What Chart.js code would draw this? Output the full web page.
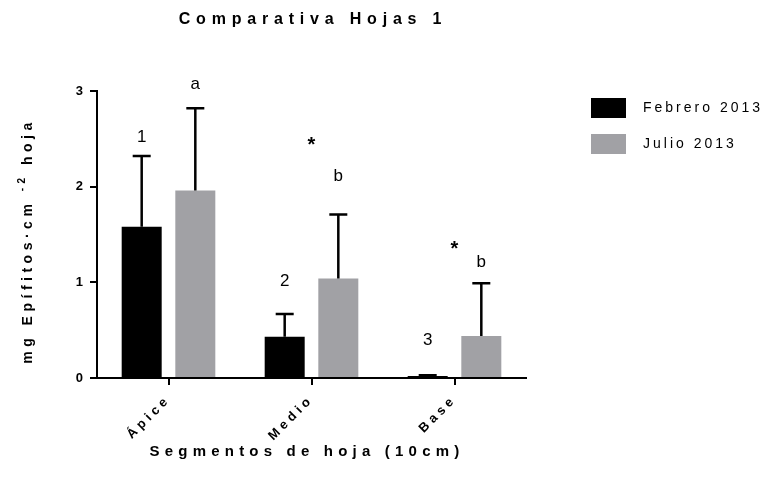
<!DOCTYPE html>
<html>
<head>
<meta charset="utf-8">
<script src="https://cdn.jsdelivr.net/npm/chart.js@4.4.0/dist/chart.umd.min.js"></script>
<style>
    html, body { margin: 0; padding: 0; background: #fff; }
    #wrap { width: 781px; height: 488px; }
</style>
</head>
<body>
<div id="wrap"><canvas id="chart"></canvas></div>
<script>
const segments = ['Ápice', 'Medio', 'Base'];
const seriesNames = ['Febrero 2013', 'Julio 2013'];
const febrero = [1.58, 0.43, 0.02];
const julio = [1.96, 1.04, 0.44];
const febreroSD = [0.74, 0.24, 0.01];
const julioSD = [0.86, 0.67, 0.55];

// letters and stars above the bars: text, segment, series (-1 = middle of the group), height in mg
const markText = ['1', 'a', '2', '*', 'b', '3', '*', 'b'];
const markSegment = [0, 0, 1, 1, 1, 2, 2, 2];
const markSeries = [0, 1, 0, -1, 1, 0, -1, 1];
const markY = [2.52, 3.07, 1.01, 2.47, 2.11, 0.39, 1.39, 1.21];

const FONT = "'Liberation Sans', Arial, sans-serif";
const colors = ['#000000', '#a1a1a5'];

const spacing = {
    id: 'letter_spacing',
    beforeLayout: (chart) => { chart.ctx.letterSpacing = '4px'; },
    beforeDraw: (chart) => { chart.ctx.letterSpacing = '4px'; }
};

const errorBars = {
    id: 'error_bars',
    afterDatasetsDraw: (chart) => {
        const ctx = chart.ctx;
        const y = chart.scales.y;
        const sds = [febreroSD, julioSD];
        ctx.save();
        ctx.strokeStyle = '#000';
        ctx.lineWidth = 2.5;
        chart.data.datasets.forEach((ds, i) => {
            chart.getDatasetMeta(i).data.forEach((bar, j) => {
                const top = y.getPixelForValue(ds.data[j] + sds[i][j]);
                ctx.beginPath();
                ctx.moveTo(bar.x, bar.y);
                ctx.lineTo(bar.x, top);
                ctx.moveTo(bar.x - 9, top);
                ctx.lineTo(bar.x + 9, top);
                ctx.stroke();
            });
        });
        ctx.restore();
    }
};

const texts = {
    id: 'texts',
    afterDraw: (chart) => {
        const ctx = chart.ctx;
        const area = chart.chartArea;
        const x = chart.scales.x;
        const y = chart.scales.y;
        ctx.save();
        ctx.fillStyle = '#000';
        ctx.textBaseline = 'middle';

        // title
        ctx.font = 'bold 16px ' + FONT;
        ctx.letterSpacing = '5.8px';
        ctx.textAlign = 'center';
        ctx.fillText('Comparativa Hojas 1', 313, 20);

        // x axis title
        ctx.font = 'bold 15px ' + FONT;
        ctx.letterSpacing = '5.2px';
        ctx.fillText('Segmentos de hoja (10cm)', 307, 452);

        // y axis title with superscript
        ctx.save();
        ctx.translate(28, 241);
        ctx.rotate(-Math.PI / 2);
        ctx.textAlign = 'left';
        const big = 'bold 14px ' + FONT;
        const small = 'bold 10px ' + FONT;
        ctx.letterSpacing = '4.5px';
        ctx.font = big;
        const w1 = ctx.measureText('mg Epífitos·cm ').width;
        const w3 = ctx.measureText(' hoja').width;
        ctx.font = small;
        const w2 = ctx.measureText('-2').width;
        let cx = -(w1 + w2 + w3) / 2;
        ctx.font = big;
        ctx.fillText('mg Epífitos·cm ', cx, 0);
        ctx.font = small;
        ctx.fillText('-2', cx + w1, -6);
        ctx.font = big;
        ctx.fillText(' hoja', cx + w1 + w2, 0);
        ctx.restore();

        // legend
        ctx.letterSpacing = '3px';
        ctx.font = '14px ' + FONT;
        ctx.textAlign = 'left';
        seriesNames.forEach((name, i) => {
            const cy = 108 + i * 36;
            ctx.fillStyle = colors[i];
            ctx.fillRect(591, cy - 10, 35, 20);
            ctx.fillStyle = '#000';
            ctx.fillText(name, 643, cy);
        });

        // marks above bars
        ctx.textAlign = 'center';
        ctx.letterSpacing = '0px';
        markText.forEach((t, k) => {
            let px;
            if (markSeries[k] < 0) {
                px = x.getPixelForValue(markSegment[k]);
            } else {
                px = chart.getDatasetMeta(markSeries[k]).data[markSegment[k]].x;
            }
            ctx.font = t === '*' ? 'bold 20px ' + FONT : '17px ' + FONT;
            ctx.fillText(t, px, y.getPixelForValue(markY[k]) + (t === '*' ? 4 : 0));
        });
        ctx.restore();
    }
};

const data = {
    labels: segments,
    datasets: [
        { label: seriesNames[0], data: febrero, backgroundColor: colors[0] },
        { label: seriesNames[1], data: julio, backgroundColor: colors[1] }
    ]
};

const axisStyle = {
    border: { display: true, color: '#000', width: 2 }
};

const config = {
    type: 'bar',
    data: data,
    options: {
        responsive: true,
        maintainAspectRatio: false,
        animation: false,
        datasets: { bar: { categoryPercentage: 0.75, barPercentage: 0.746 } },
        layout: { padding: { top: 91, right: 255, bottom: 0, left: 0 } },
        plugins: {
            legend: { display: false },
            title: { display: false },
            tooltip: { enabled: false }
        },
        scales: {
            x: {
                ...axisStyle,
                grid: { display: true, offset: false, drawOnChartArea: false, drawTicks: true, tickLength: 7, color: '#000', lineWidth: 2 },
                ticks: { color: '#000', maxRotation: 45, minRotation: 45, padding: 7, font: { family: FONT, size: 13, weight: 'bold' } },
                afterFit: (scale) => { scale.height = 110; }
            },
            y: {
                ...axisStyle,
                min: 0, max: 3,
                grid: { display: true, drawOnChartArea: false, drawTicks: true, tickLength: 7, color: '#000', lineWidth: 2 },
                ticks: { stepSize: 1, color: '#000', padding: 3, font: { family: FONT, size: 13, weight: 'bold' } },
                afterFit: (scale) => { scale.width = 97; }
            }
        }
    },
    plugins: [spacing, errorBars, texts]
};

let chart = new Chart(document.getElementById('chart'), config);
</script>
</body>
</html>
